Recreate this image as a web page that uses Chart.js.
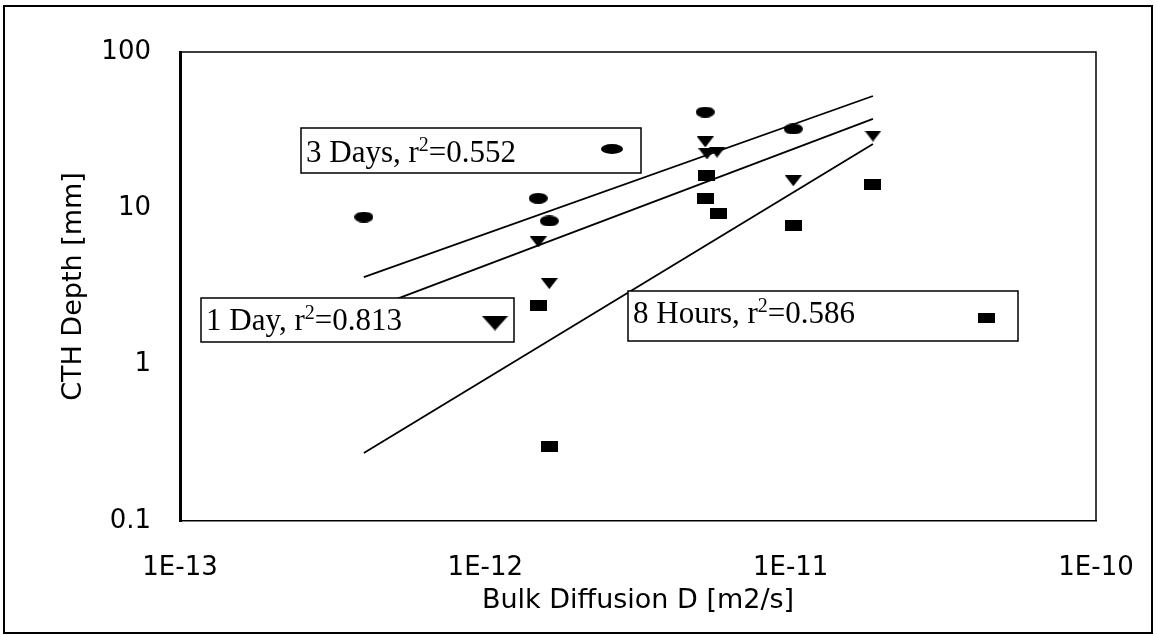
<!DOCTYPE html>
<html>
<head>
<meta charset="utf-8">
<script src="https://cdn.jsdelivr.net/npm/chart.js@4.4.0/dist/chart.umd.min.js"></script>
<style>
html, body { margin: 0; padding: 0; background: #fff; }
canvas { display: block; }
</style>
</head>
<body>
<canvas id="chart" width="1157" height="636"></canvas>
<script>
// values (log-log axes)
const daysX = [4.0e-13, 1.49e-12, 1.62e-12, 5.25e-12, 1.02e-11];
const daysY = [8.8, 11.6, 8.3, 41.3, 32.2];

const dayX = [1.49e-12, 1.62e-12, 5.25e-12, 5.32e-12, 5.74e-12, 1.02e-11, 1.86e-11];
const dayY = [6.1, 3.3, 26.6, 22.3, 22.9, 15.0, 29.0];

const hoursX = [1.49e-12, 1.62e-12, 5.32e-12, 5.28e-12, 5.79e-12, 1.02e-11, 1.86e-11];
const hoursY = [2.4, 0.30, 16.1, 11.5, 9.2, 7.8, 14.3];

// power-law fit lines, end points only
const fitX = [4.0e-13, 1.86e-11];
const daysFit = [3.63, 52.3];
const dayFit = [2.19, 37.3];
const hoursFit = [0.272, 25.8];

const xTicks = [1e-13, 1e-12, 1e-11, 1e-10];
const xTickLabels = ['1E-13', '1E-12', '1E-11', '1E-10'];
const yTicks = [0.1, 1, 10, 100];
const yTickLabels = ['0.1', '1', '10', '100'];

const seriesNames = ['3 Days', '1 Day', '8 Hours'];
const r2Values = ['0.552', '0.813', '0.586'];

const pts = (xs, ys) => xs.map((x, i) => ({ x: x, y: ys[i] }));

function marker(w, h, draw) {
    const c = document.createElement('canvas');
    c.width = w;
    c.height = h;
    const g = c.getContext('2d');
    g.fillStyle = '#000';
    draw(g, w, h);
    return c;
}
const ellipse = (w, h) => marker(w, h, (g) => { g.beginPath(); g.ellipse(w / 2, h / 2, w / 2, h / 2, 0, 0, Math.PI * 2); g.fill(); });
const triDown = (w, h) => marker(w, h, (g) => { g.beginPath(); g.moveTo(0, 0); g.lineTo(w, 0); g.lineTo(w / 2, h); g.closePath(); g.fill(); });
const block = (w, h) => marker(w, h, (g) => g.fillRect(0, 0, w, h));

const markers = [ellipse(19, 11), triDown(17, 11), block(17, 11)];

// label boxes sitting inside the plot
const boxes = [
    { x: 301, y: 128, w: 340, h: 45, base: 34, mx: 311, my: 21, icon: ellipse(22, 10) },
    { x: 201, y: 298, w: 313, h: 44, base: 32, mx: 294, my: 25, icon: triDown(27, 15) },
    { x: 628, y: 291, w: 390, h: 50, base: 32, mx: 358, my: 27, icon: block(17, 10) }
];

const frame = {
    id: 'frame',
    beforeDraw(chart) {
        const ctx = chart.ctx;
        ctx.save();
        ctx.fillStyle = '#fff';
        ctx.fillRect(0, 0, chart.width, chart.height);
        ctx.strokeStyle = '#000';
        ctx.lineWidth = 2;
        ctx.strokeRect(4, 6, 1148, 627);
        ctx.restore();
    },
    afterDraw(chart) {
        const { ctx, chartArea: a } = chart;
        ctx.save();
        ctx.strokeStyle = '#000';
        ctx.lineWidth = 1.5;
        ctx.beginPath();
        ctx.moveTo(a.left, a.top);
        ctx.lineTo(a.right, a.top);
        ctx.lineTo(a.right, a.bottom);
        ctx.stroke();

        boxes.forEach((b, i) => {
            ctx.fillStyle = '#fff';
            ctx.fillRect(b.x, b.y, b.w, b.h);
            ctx.lineWidth = 1.5;
            ctx.strokeRect(b.x, b.y, b.w, b.h);
            ctx.fillStyle = '#000';
            ctx.textBaseline = 'alphabetic';
            ctx.textAlign = 'left';
            let tx = b.x + 5;
            const ty = b.y + b.base;
            ctx.font = '31px "Liberation Serif", "Times New Roman", serif';
            const head = seriesNames[i] + ', r';
            ctx.fillText(head, tx, ty);
            tx += ctx.measureText(head).width;
            ctx.font = '20px "Liberation Serif", "Times New Roman", serif';
            ctx.fillText('2', tx, ty - 11);
            tx += ctx.measureText('2').width;
            ctx.font = '31px "Liberation Serif", "Times New Roman", serif';
            ctx.fillText('=' + r2Values[i], tx, ty);
            ctx.drawImage(b.icon, b.x + b.mx - b.icon.width / 2, b.y + b.my - b.icon.height / 2);
        });
        ctx.restore();
    }
};

const axisFont = { family: '"DejaVu Sans", sans-serif', size: 26 };

const fitLine = (ys) => ({
    data: pts(fitX, ys),
    showLine: true,
    borderColor: '#000',
    borderWidth: 1.8,
    pointRadius: 0,
    fill: false
});

new Chart(document.getElementById('chart'), {
    type: 'scatter',
    data: {
        datasets: [
            fitLine(daysFit),
            fitLine(dayFit),
            fitLine(hoursFit),
            { label: seriesNames[0], data: pts(daysX, daysY), pointStyle: markers[0], pointRadius: 6 },
            { label: seriesNames[1], data: pts(dayX, dayY), pointStyle: markers[1], pointRadius: 6 },
            { label: seriesNames[2], data: pts(hoursX, hoursY), pointStyle: markers[2], pointRadius: 6 }
        ]
    },
    options: {
        responsive: false,
        animation: false,
        layout: { padding: { left: 0, top: 52, right: 61, bottom: 0 } },
        plugins: { legend: { display: false }, tooltip: { enabled: false } },
        scales: {
            x: {
                type: 'logarithmic',
                min: 1e-13,
                max: 1e-10,
                afterBuildTicks: (s) => { s.ticks = xTicks.map((v) => ({ value: v })); },
                afterFit: (s) => { s.height = 115; s.paddingLeft = 0; s.paddingRight = 0; },
                grid: { display: false, drawTicks: false },
                border: { display: true, color: '#000', width: 1.5 },
                ticks: {
                    color: '#000',
                    font: axisFont,
                    padding: 32,
                    maxRotation: 0,
                    autoSkip: false,
                    callback: (v, i) => xTickLabels[i]
                },
                title: {
                    display: true,
                    text: 'Bulk Diffusion D [m2/s]',
                    color: '#000',
                    font: { family: '"DejaVu Sans", sans-serif', size: 27, lineHeight: 1 },
                    padding: { top: 0, bottom: 22 }
                }
            },
            y: {
                type: 'logarithmic',
                min: 0.1,
                max: 100,
                afterBuildTicks: (s) => { s.ticks = yTicks.map((v) => ({ value: v })); },
                afterFit: (s) => { s.width = 180; s.paddingTop = 0; s.paddingBottom = 0; },
                grid: { display: false, drawTicks: false },
                border: { display: true, color: '#000', width: 3 },
                ticks: {
                    color: '#000',
                    font: axisFont,
                    padding: 29,
                    autoSkip: false,
                    callback: (v, i) => yTickLabels[i]
                },
                title: {
                    display: true,
                    text: 'CTH Depth [mm]',
                    color: '#000',
                    font: { family: '"DejaVu Sans", sans-serif', size: 27, lineHeight: 1 },
                    padding: { top: 60, bottom: 0 }
                }
            }
        }
    },
    plugins: [frame]
});
</script>
</body>
</html>
